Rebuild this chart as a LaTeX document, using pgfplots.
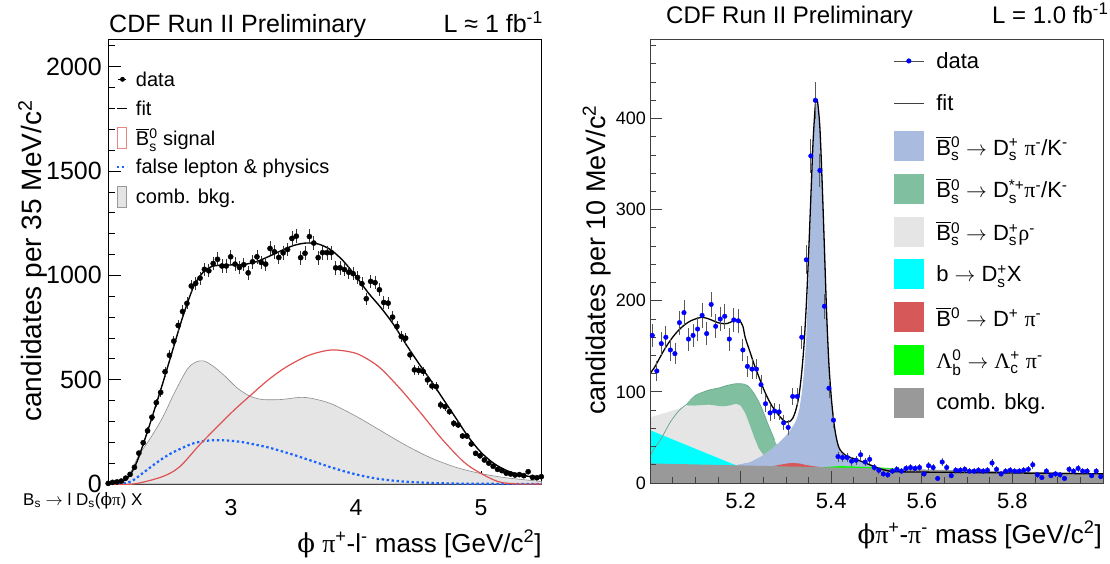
\documentclass[border=0pt]{standalone}
\usepackage{amsmath}
\usepackage{fontspec}
\setmainfont{Liberation Sans}
\newfontfamily\grk{Liberation Serif}
\newfontfamily\dvs{DejaVu Serif}
\usepackage{pgfplots}
\usepackage{pgfplotstable}
\pgfplotsset{compat=1.18}
\definecolor{lav}{RGB}{170,187,224}
\definecolor{dsst}{RGB}{128,192,160}
\definecolor{dsstl}{RGB}{105,170,138}
\definecolor{lgray}{RGB}{229,229,229}
\definecolor{bred}{RGB}{214,88,88}
\definecolor{lbgreen}{RGB}{0,255,0}
\definecolor{cyanf}{RGB}{0,255,255}
\definecolor{comb}{RGB}{153,153,153}
\definecolor{sigred}{RGB}{222,82,82}
\definecolor{fblue}{RGB}{25,100,255}
\newcommand{\fs}[1]{\fontsize{#1}{#1}\selectfont}
\newcommand{\Bsb}{$\overline{\text{B}}{}^{\text{0}}_{\text{s}}$}
\newcommand{\ar}{$\rightarrow$}

\pgfplotstableread{
m v e
2.0175 3 1.7
2.0525 8 2.8
2.0875 10 3.2
2.1225 14 3.7
2.1575 28 5.3
2.1925 46 6.8
2.2275 80 8.9
2.2625 148 12.2
2.2975 198 14.1
2.3325 255 16.0
2.3675 320 17.9
2.4025 390 19.7
2.4375 439 21.0
2.4725 538 23.2
2.5075 617 24.8
2.5425 685 26.2
2.5775 760 27.6
2.6125 827 28.8
2.6475 866 29.4
2.6825 949 30.8
2.7175 962 31.0
2.7525 987 31.4
2.7875 1029 32.1
2.8225 1022 32.0
2.8575 1057 32.5
2.8925 1077 32.8
2.9275 1045 32.3
2.9625 1045 32.3
2.9975 1089 33.0
3.0325 1054 32.5
3.0675 1038 32.2
3.1025 1051 32.4
3.1375 1012 31.8
3.1725 1065 32.6
3.2075 1089 33.0
3.2425 1062 32.6
3.2775 1054 32.5
3.3125 1129 33.6
3.3475 1113 33.4
3.3825 1086 33.0
3.4175 1108 33.3
3.4525 1124 33.5
3.4875 1177 34.3
3.5225 1188 34.5
3.5575 1085 32.9
3.5925 1106 33.3
3.6275 1186 34.4
3.6625 1155 34.0
3.6975 1085 32.9
3.7325 1109 33.3
3.7675 1109 33.3
3.8025 1109 33.3
3.8375 1036 32.2
3.8725 1036 32.2
3.9075 1028 32.1
3.9425 1015 31.9
3.9775 1008 31.7
4.0125 990 31.5
4.0475 960 31.0
4.0825 888 29.8
4.1175 971 31.2
4.1525 965 31.1
4.1875 931 30.5
4.2225 870 29.5
4.2575 867 29.4
4.2925 800 28.3
4.3275 755 27.5
4.3625 707 26.6
4.3975 699 26.4
4.4325 619 24.9
4.4675 547 23.4
4.5025 544 23.3
4.5375 540 23.2
4.5725 499 22.3
4.6075 470 21.7
4.6425 467 21.6
4.6775 379 19.5
4.7125 371 19.3
4.7475 347 18.6
4.7825 291 17.1
4.8175 283 16.8
4.8525 230 15.2
4.8875 230 15.2
4.9225 192 13.9
4.9575 147 12.1
4.9925 135 11.6
5.0275 115 10.7
5.0625 100 10.0
5.0975 85 9.2
5.1325 70 8.4
5.1675 64 8.0
5.2025 52 7.2
5.2375 48 6.9
5.2725 43 6.6
5.3075 45 6.7
5.3425 40 6.3
5.3775 59 7.7
5.4125 32 5.7
5.4475 30 5.5
5.4825 35 5.9
}\leftdata

\pgfplotstableread{
m v e
5.005 162 12.7
5.015 123 11.1
5.025 153 12.4
5.035 160 12.6
5.045 146 12.1
5.055 142 11.9
5.065 176 13.3
5.075 187 13.7
5.085 158 12.6
5.095 162 12.7
5.105 169 13.0
5.115 184 13.6
5.125 164 12.8
5.135 196 14.0
5.145 172 13.1
5.155 180 13.4
5.165 183 13.5
5.175 158 12.6
5.185 179 13.4
5.195 178 13.3
5.205 146 12.1
5.215 128 11.3
5.225 125 11.2
5.235 125 11.2
5.245 108 10.4
5.255 87 9.3
5.265 77 8.8
5.275 79 8.9
5.285 78 8.8
5.295 66 8.1
5.305 61 7.8
5.315 95 9.7
5.325 95 9.7
5.335 160 12.6
5.345 245 15.7
5.355 359 18.9
5.365 420 20.5
5.375 343 18.5
5.385 194 13.9
5.395 104 10.2
5.405 69 8.3
5.415 29 5.4
5.425 28 5.3
5.435 28 5.3
5.445 24 4.9
5.455 25 5.0
5.465 31 5.6
5.475 23 4.8
5.485 26 5.1
5.495 17 4.1
5.505 14 3.7
5.515 10 3.2
5.525 9 3.0
5.535 13 3.6
5.545 15 3.9
5.555 13 3.6
5.565 16 4.0
5.575 17 4.1
5.585 16 4.0
5.595 17 4.1
5.605 10 3.2
5.615 19 4.4
5.625 17 4.1
5.635 5 2.2
5.645 23 4.8
5.655 17 4.1
5.665 8 2.8
5.675 14 3.7
5.685 14 3.7
5.695 15 3.9
5.705 13 3.6
5.715 13 3.6
5.725 14 3.7
5.735 13 3.6
5.745 14 3.7
5.755 22 4.7
5.765 15 3.9
5.775 10 3.2
5.785 13 3.6
5.795 14 3.7
5.805 13 3.6
5.815 13 3.6
5.825 14 3.7
5.835 15 3.9
5.845 20 4.5
5.855 9 3.0
5.865 6 2.4
5.875 13 3.6
5.885 8 2.8
5.895 10 3.2
5.905 9 3.0
5.915 5 2.2
5.925 15 3.9
5.935 13 3.6
5.945 16 4.0
5.955 13 3.6
5.965 13 3.6
5.975 8 2.8
5.985 13 3.6
5.995 7 2.6
}\rightdata

\begin{document}
\begin{tikzpicture}
\useasboundingbox (0pt,0pt) rectangle (1110pt,563pt);
% ================= LEFT PANEL =================
\begin{axis}[
  at={(108pt,79pt)}, anchor=south west, scale only axis,
  width=433.7pt, height=445pt,
  xmin=2.016, xmax=5.486, ymin=0, ymax=2133,
  xtick={3,4,5},
  minor xtick={2.2,2.4,2.6,2.8,3.2,3.4,3.6,3.8,4.2,4.4,4.6,4.8,5.2,5.4},
  ytick={0,500,1000,1500,2000},
  minor ytick={100,200,...,2100},
  xtick pos=bottom, ytick pos=left, tick align=inside,
  major tick length=13pt, minor tick length=6.5pt,
  scaled ticks=false,
  /pgf/number format/assume math mode=true,
  /pgf/number format/1000 sep={},
  xticklabel style={font=\fs{23}, inner sep=0pt, yshift=-15pt},
  yticklabel style={font=\fs{25}, inner sep=0pt, xshift=-6pt},
  axis line style={black, line width=0.9pt},
  every tick/.style={black, line width=0.8pt},
  legend cell align=left,
  legend style={at={(axis description cs:0.0184,0.933)}, anchor=north west,
    draw=none, fill=none, inner sep=0pt, outer sep=0pt,
    font=\fs{20}, row sep=8pt,
    nodes={inner sep=0pt},
    /tikz/column 1/.style={column sep=8pt}},
]
\addplot[forget plot, fill=lgray, draw=black!45, line width=0.6pt, smooth] coordinates {
(2.016,0) (2.1,4) (2.15,18) (2.2,58) (2.26,135) (2.35,215) (2.45,315) (2.55,440)
(2.65,550) (2.72,585) (2.78,590) (2.85,568) (2.95,518) (3.05,460) (3.15,422)
(3.25,405) (3.4,405) (3.55,415) (3.65,410) (3.8,385) (4.0,325) (4.2,255)
(4.4,185) (4.6,125) (4.8,80) (5.0,50) (5.2,30) (5.486,12)} \closedcycle;
\addplot[forget plot, fblue, line width=2.2pt, dash pattern=on 2.4pt off 2.6pt, smooth] coordinates {
(2.1,0) (2.2,12) (2.3,55) (2.4,100) (2.5,140) (2.6,170) (2.7,195) (2.8,207)
(2.9,210) (3.0,207) (3.1,200) (3.2,188) (3.3,175) (3.4,158) (3.5,140) (3.6,120)
(3.7,100) (3.8,80) (3.9,62) (4.0,46) (4.1,33) (4.2,23) (4.3,16) (4.4,11)
(4.6,5) (4.8,2) (5.0,1) (5.486,0)};
\addplot[forget plot, sigred, line width=1.2pt, smooth] coordinates {
(2.016,0) (2.22,0) (2.45,35) (2.59,83) (2.76,195) (3.0,340) (3.16,427) (3.3,500)
(3.44,560) (3.61,614) (3.75,638) (3.85,642) (4.01,624) (4.18,563) (4.35,459)
(4.52,339) (4.69,214) (4.86,107) (4.99,54) (5.14,11) (5.29,0) (5.486,0)};
\addplot[forget plot, black, line width=1.4pt, smooth] coordinates {
(2.016,2) (2.05,4) (2.1,8) (2.15,18) (2.2,50) (2.25,110) (2.3,195) (2.35,285)
(2.4,380) (2.45,475) (2.5,575) (2.55,675) (2.6,775) (2.65,865) (2.7,945)
(2.75,995) (2.8,1028) (2.85,1043) (2.9,1048) (3.0,1050) (3.1,1052) (3.2,1065)
(3.3,1090) (3.4,1118) (3.5,1143) (3.6,1155) (3.7,1150) (3.8,1122) (3.9,1068)
(4.0,995) (4.1,915) (4.2,845) (4.3,765) (4.4,670) (4.5,580) (4.6,495) (4.7,405)
(4.8,315) (4.9,225) (5.0,152) (5.1,100) (5.2,66) (5.3,46) (5.4,35) (5.486,28)};
\addplot[forget plot, only marks, mark=*, mark size=2.6pt, black,
  error bars/.cd, y dir=both, y explicit, error mark=none,
  error bar style={black!80, line width=0.8pt}]
  table[x=m, y=v, y error=e] {\leftdata};
% legend
\addlegendimage{legend image code/.code={\path[draw=none,fill=none] (0pt,-10.5pt) rectangle (10pt,10.5pt);
  \draw[black, line width=0.8pt] (1pt,0pt)--(9pt,0pt); \fill[black] (5.5pt,0pt) circle (2.2pt);}}
\addlegendentry{\rule[-5pt]{0pt}{20pt}data}
\addlegendimage{legend image code/.code={\path[draw=none,fill=none] (0pt,-10.5pt) rectangle (10pt,10.5pt);
  \draw[black, line width=1.2pt] (0pt,0pt)--(10pt,0pt);}}
\addlegendentry{\rule[-5pt]{0pt}{20pt}fit}
\addlegendimage{legend image code/.code={
  \draw[sigred!70, fill=none, line width=0.8pt] (0.5pt,-10.5pt) rectangle (9.5pt,10.5pt);}}
\addlegendentry{\rule[-5pt]{0pt}{20pt}\Bsb{} signal}
\addlegendimage{legend image code/.code={\path[draw=none,fill=none] (0pt,-10.5pt) rectangle (10pt,10.5pt);
  \draw[fblue, line width=2pt, dash pattern=on 2.4pt off 2.6pt] (0pt,0pt)--(10pt,0pt);}}
\addlegendentry{\rule[-5pt]{0pt}{20pt}false lepton \& physics}
\addlegendimage{legend image code/.code={
  \filldraw[fill=lgray, draw=black!40, line width=0.8pt] (0.5pt,-10.5pt) rectangle (9.5pt,10.5pt);}}
\addlegendentry{\rule[-5pt]{0pt}{20pt}comb. bkg.}
\end{axis}

% ================= RIGHT PANEL =================
\begin{axis}[
  at={(650pt,80pt)}, anchor=south west, scale only axis,
  width=453pt, height=443.7pt,
  xmin=5.0, xmax=6.0, ymin=0, ymax=487,
  xtick={5.2,5.4,5.6,5.8}, xticklabels={5.2,5.4,5.6,5.8},
  minor xtick={5.05,5.1,5.15,5.25,5.3,5.35,5.45,5.5,5.55,5.65,5.7,5.75,5.85,5.9,5.95},
  ytick={0,100,200,300,400},
  minor ytick={20,40,...,480},
  xtick pos=bottom, ytick pos=left, tick align=inside,
  major tick length=12pt, minor tick length=6pt,
  scaled ticks=false,
  /pgf/number format/assume math mode=true,
  xticklabel style={font=\fs{22}, inner sep=0pt, yshift=-10pt},
  yticklabel style={font=\fs{18}, inner sep=0pt, xshift=-4pt},
  axis line style={black!75, line width=0.9pt},
  every tick/.style={black!75, line width=0.8pt},
  axis on top,
  legend cell align=left,
  legend style={at={(axis description cs:0.537,0.985)}, anchor=north west,
    draw=none, fill=none, inner sep=0pt, outer sep=0pt,
    font=\fs{22}, row sep=12.7pt,
    nodes={inner sep=0pt},
    /tikz/column 1/.style={column sep=12pt}},
]
% Ds pi (lavender)
\addplot[forget plot, fill=lav, draw=none] coordinates {
(5.17,0) (5.17,19.6) (5.2,21) (5.22,23) (5.24,28) (5.26,34) (5.28,42) (5.30,52)
(5.31,58) (5.32,66) (5.325,72) (5.33,82) (5.335,98) (5.34,122) (5.345,160)
(5.35,225) (5.355,300) (5.36,368) (5.365,410) (5.3675,416) (5.37,413) (5.375,385)
(5.38,325) (5.385,252) (5.39,180) (5.395,127) (5.40,92) (5.405,67) (5.41,50)
(5.415,40) (5.42,34) (5.43,30) (5.45,26) (5.47,23) (5.49,20) (5.5,18) (5.51,16.2)
(5.52,15.3) (5.52,0)} -- cycle;
% Ds rho (light gray)
\addplot[forget plot, fill=lgray, draw=none] coordinates {
(5.0,72) (5.02,75) (5.04,78) (5.06,81) (5.08,84) (5.1,85) (5.13,86) (5.16,84)
(5.175,85) (5.19,87) (5.2,85) (5.21,77) (5.22,64) (5.23,50) (5.24,38) (5.25,31)
(5.24,28) (5.22,23) (5.2,21) (5.19,19.4) (5.0,58)} -- cycle;
% Ds* pi (green band)
\addplot[forget plot, fill=dsst, draw=none] coordinates {
(5.08,85) (5.1,96) (5.13,102) (5.15,104) (5.17,107) (5.19,109) (5.2,109)
(5.215,107) (5.23,98) (5.245,84) (5.26,65) (5.275,47) (5.28,42)
(5.26,34) (5.25,31) (5.24,38) (5.23,50) (5.22,64) (5.21,77) (5.2,85) (5.19,87)
(5.175,85) (5.16,84) (5.13,86) (5.1,85)} -- cycle;
% b -> Ds X (cyan)
\addplot[forget plot, fill=cyanf, draw=none] coordinates {
(5.0,0) (5.0,58) (5.19,19.4) (5.19,0)} -- cycle;
% B0 -> D pi (red)
\addplot[forget plot, fill=bred, draw=none] coordinates {
(5.27,0) (5.27,18.5) (5.29,20.3) (5.305,21.6) (5.315,22) (5.33,21.4)
(5.345,19.7) (5.36,18.5) (5.38,17.3) (5.38,0)} -- cycle;
% Lambda_b (green)
\addplot[forget plot, fill=lbgreen, draw=none] coordinates {
(5.38,0) (5.38,17.4) (5.42,18.6) (5.5,17.3) (5.56,15.4) (5.56,0)} -- cycle;
% combinatorial
\addplot[forget plot, fill=comb, draw=none] coordinates {
(5.0,0) (5.0,21.5) (6.0,10.5) (6.0,0)} -- cycle;
% Ds* pi outline
\addplot[forget plot, dsstl, line width=0.8pt, smooth] coordinates {
(5.0,30) (5.01,38) (5.025,49) (5.045,67) (5.065,80) (5.08,86) (5.1,96)
(5.13,102) (5.15,104) (5.17,107) (5.19,109) (5.2,109) (5.215,107) (5.23,98)
(5.245,84) (5.26,65) (5.275,47)};
% fit
\addplot[forget plot, black, line width=1.3pt, smooth] coordinates {
(5.0,120) (5.01,127) (5.02,136) (5.03,145) (5.04,153) (5.05,160) (5.06,166)
(5.07,171) (5.08,175) (5.09,178) (5.1,180) (5.11,181.5) (5.12,181.5) (5.13,180)
(5.14,178) (5.15,176) (5.16,175) (5.17,175) (5.18,177) (5.19,179) (5.197,179)
(5.205,172) (5.21,160) (5.22,145) (5.23,130) (5.24,117) (5.25,104) (5.26,93)
(5.27,84) (5.28,77) (5.29,71) (5.3,67) (5.31,68) (5.315,71) (5.32,77) (5.325,86)
(5.33,100) (5.335,122) (5.34,152) (5.345,195) (5.35,250) (5.355,313) (5.36,375)
(5.365,415) (5.3675,420) (5.37,418) (5.375,390) (5.38,330) (5.385,258)
(5.39,185) (5.395,130) (5.4,95) (5.405,70) (5.41,53) (5.415,42) (5.42,36)
(5.43,31) (5.44,28.5) (5.46,25) (5.48,21) (5.5,17) (5.52,14) (5.54,12.5)
(5.6,12) (5.7,11.5) (5.8,11) (5.9,10.5) (6.0,10)};
% data
\addplot[forget plot, only marks, mark=*, mark size=2.3pt, blue,
  error bars/.cd, y dir=both, y explicit, error mark=none,
  error bar style={black!65, line width=0.8pt}]
  table[x=m, y=v, y error=e] {\rightdata};
% legend
\addlegendimage{legend image code/.code={\path[draw=none,fill=none] (0pt,-15pt) rectangle (30pt,15pt);
  \draw[black!70, line width=0.9pt] (0pt,0pt)--(30pt,0pt); \fill[blue] (15pt,0pt) circle (2.3pt);}}
\addlegendentry{\rule[-6pt]{0pt}{22pt}data}
\addlegendimage{legend image code/.code={\path[draw=none,fill=none] (0pt,-15pt) rectangle (30pt,15pt);
  \draw[black!75, line width=1.1pt] (0pt,0pt)--(30pt,0pt);}}
\addlegendentry{\rule[-6pt]{0pt}{22pt}fit}
\addlegendimage{legend image code/.code={\fill[lav, draw=none] (0pt,-15pt) rectangle (30pt,15pt);}}
\addlegendentry{\rule[-6pt]{0pt}{22pt}\Bsb{} \ar{} D$^{\text{+}}_{\text{s}}$ {\grk π}$^{\text{-}}$/K$^{\text{-}}$}
\addlegendimage{legend image code/.code={\fill[dsst, draw=none] (0pt,-15pt) rectangle (30pt,15pt);}}
\addlegendentry{\rule[-6pt]{0pt}{22pt}\Bsb{} \ar{} D$^{\text{*+}}_{\text{s}}${\grk π}$^{\text{-}}$/K$^{\text{-}}$}
\addlegendimage{legend image code/.code={\fill[lgray, draw=none] (0pt,-15pt) rectangle (30pt,15pt);}}
\addlegendentry{\rule[-6pt]{0pt}{22pt}\Bsb{} \ar{} D$^{\text{+}}_{\text{s}}${\grk ρ}$^{\text{-}}$}
\addlegendimage{legend image code/.code={\fill[cyanf, draw=none] (0pt,-15pt) rectangle (30pt,15pt);}}
\addlegendentry{\rule[-6pt]{0pt}{22pt}b \ar{} D$^{\text{+}}_{\text{s}}$X}
\addlegendimage{legend image code/.code={\fill[bred, draw=none] (0pt,-15pt) rectangle (30pt,15pt);}}
\addlegendentry{\rule[-6pt]{0pt}{22pt}$\overline{\text{B}}{}^{\text{0}}$ \ar{} D$^{\text{+}}$ {\grk π}$^{\text{-}}$}
\addlegendimage{legend image code/.code={\fill[lbgreen, draw=none] (0pt,-15pt) rectangle (30pt,15pt);}}
\addlegendentry{\rule[-6pt]{0pt}{22pt}{\grk Λ}$^{\text{0}}_{\text{b}}$ \ar{} {\grk Λ}$^{\text{+}}_{\text{c}}$ {\grk π}$^{\text{-}}$}
\addlegendimage{legend image code/.code={\fill[comb, draw=none] (0pt,-15pt) rectangle (30pt,15pt);}}
\addlegendentry{\rule[-6pt]{0pt}{22pt}comb. bkg.}
\end{axis}

% ================= TEXT =================
\node[anchor=base west, inner sep=0pt, font=\fs{25}] at (109pt,530pt) {CDF Run II Preliminary};
\node[anchor=base east, inner sep=0pt, font=\fs{25}] at (543pt,530pt) {L ≈ 1 fb$^{\text{-1}}$};
\node[anchor=base west, inner sep=0pt, font=\fs{24}] at (666pt,539pt) {CDF Run II Preliminary};
\node[anchor=base west, inner sep=0pt, font=\fs{24}] at (992pt,539pt) {L = 1.0 fb$^{\text{-1}}$};
\node[rotate=90, anchor=base, inner sep=0pt, font=\fs{28}] at (41pt,302pt) {candidates per 35 MeV/c$^{\text{2}}$};
\node[rotate=90, anchor=base, inner sep=0pt, font=\fs{27}] at (605pt,303pt) {candidates per 10 MeV/c$^{\text{2}}$};
\node[anchor=base east, inner sep=0pt, font=\fs{26}] at (541.7pt,11pt) {{\dvs ϕ} {\grk π}$^{\text{+}}$-l$^{\text{-}}$ mass [GeV/c$^{\text{2}}$]};
\node[anchor=base east, inner sep=0pt, font=\fs{26}] at (1102pt,20pt) {{\dvs ϕ}{\grk π}$^{\text{+}}$-{\grk π}$^{\text{-}}$ mass [GeV/c$^{\text{2}}$]};
\node[anchor=base west, inner sep=0pt, font=\fs{17}] at (23pt,58pt) {B$_{\text{s}}$ \ar{} l D$_{\text{s}}$({\dvs ϕ}{\grk π}) X};
\end{tikzpicture}
\end{document}
